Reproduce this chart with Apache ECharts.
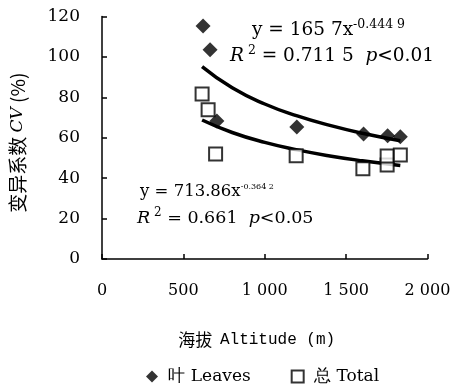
<!DOCTYPE html>
<html>
<head>
<meta charset="utf-8">
<script src="https://cdn.jsdelivr.net/npm/echarts@6/dist/echarts.min.js"></script>
<style>
  html, body { margin: 0; padding: 0; background: #fff; }
  #app { width: 457px; height: 391px; }
</style>
</head>
<body>
<div id="app"></div>
<script>
// observed points, altitude (m) vs CV (%)
const leavesAlt = [621, 664, 706, 1197, 1607, 1755, 1833];
const leavesCV = [115.3, 103.5, 68.3, 65.3, 61.9, 61.0, 60.5];
const totalAlt = [615, 652, 698, 1193, 1603, 1752, 1752, 1833];
const totalCV = [81.7, 73.8, 52.0, 51.1, 44.6, 46.5, 51.0, 51.5];

// fitted curves
const fitAlt = [615, 800, 1000, 1200, 1400, 1600, 1833];
const leavesFit = [95.2, 84.7, 76.7, 70.8, 66.1, 62.2, 58.5];
const totalFit = [68.8, 62.6, 57.7, 54.0, 51.0, 48.6, 46.3];

const xTicks = [0, 500, 1000, 1500, 2000];
const yTicks = [0, 20, 40, 60, 80, 100, 120];

const serif = "'DejaVu Serif', 'Liberation Serif', serif";
const cjk = "'Noto Sans CJK SC', sans-serif";

const zip = (xs, ys) => xs.map((x, i) => [x, ys[i]]);

const chart = echarts.init(document.getElementById("app"));

// rich styles for the equation labels, one set per font size
const eq = (size, supSize, lift) => ({
  t: { fontFamily: serif, fontSize: size, color: "#000" },
  i: { fontFamily: serif, fontSize: size, fontStyle: "italic", color: "#000" },
  sup: { fontFamily: serif, fontSize: supSize, color: "#000", padding: [0, 0, lift, 0] },
});

chart.setOption({
  animation: false,
  backgroundColor: "#fff",
  grid: { left: 97.5, right: 29.5, top: 16.5, bottom: 132 },
  legend: {
    bottom: 1,
    left: 141,
    itemGap: 40,
    itemWidth: 12,
    itemHeight: 12,
    formatter: (name) => " " + name,
    textStyle: { fontFamily: serif, fontSize: 17, color: "#000" },
    data: [
      { name: "叶 Leaves", icon: "diamond" },
      { name: "总 Total", icon: "rect", itemStyle: { color: "#fff", borderColor: "#000", borderWidth: 2 } },
    ],
  },
  xAxis: {
    type: "value",
    min: xTicks[0],
    max: xTicks[xTicks.length - 1],
    interval: 500,
    name: "海拔  {m|Altitude (m)}",
    nameLocation: "middle",
    nameGap: 72,
    nameTextStyle: {
      fontFamily: cjk,
      fontSize: 17,
      color: "#000",
      padding: [0, 16, 0, 0],
      rich: { m: { fontFamily: "'Liberation Mono', monospace", fontSize: 16, color: "#000" } },
    },
    axisLine: { lineStyle: { color: "#000", width: 1.5 } },
    axisTick: { inside: true, length: 5, lineStyle: { color: "#000", width: 1.5 } },
    axisLabel: {
      margin: 24,
      fontFamily: serif,
      fontSize: 16,
      color: "#000",
      formatter: (v) => (v >= 1000 ? Math.floor(v / 1000) + " " + String(v % 1000).padStart(3, "0") : String(v)),
    },
    splitLine: { show: false },
  },
  yAxis: {
    type: "value",
    min: yTicks[0],
    max: yTicks[yTicks.length - 1],
    interval: 20,
    name: "变异系数 {i|CV} (%)",
    nameLocation: "middle",
    nameGap: 75,
    nameRotate: 90,
    nameTextStyle: {
      fontFamily: cjk,
      fontSize: 19,
      color: "#000",
      padding: [0, 10, 0, 0],
      rich: { i: { fontFamily: serif, fontStyle: "italic", fontSize: 17, color: "#000" } },
    },
    axisLine: { show: true, lineStyle: { color: "#000", width: 1.5 } },
    axisTick: { show: true, inside: true, length: 5, lineStyle: { color: "#000", width: 1.5 } },
    axisLabel: { margin: 22, fontFamily: serif, fontSize: 17, color: "#000" },
    splitLine: { show: false },
  },
  series: [
    {
      name: "叶 Leaves",
      type: "scatter",
      symbol: "diamond",
      symbolSize: 15,
      itemStyle: { color: "#000" },
      data: zip(leavesAlt, leavesCV),
      z: 3,
    },
    {
      name: "总 Total",
      type: "scatter",
      symbol: "rect",
      symbolSize: 13,
      itemStyle: { color: "#fff", borderColor: "#000", borderWidth: 2 },
      data: zip(totalAlt, totalCV),
      z: 3,
    },
    {
      name: "leavesFit",
      type: "line",
      smooth: true,
      showSymbol: false,
      lineStyle: { color: "#000", width: 3.5 },
      data: zip(fitAlt, leavesFit),
      z: 2,
    },
    {
      name: "totalFit",
      type: "line",
      smooth: true,
      showSymbol: false,
      lineStyle: { color: "#000", width: 3.5 },
      data: zip(fitAlt, totalFit),
      z: 2,
    },
  ],
  graphic: [
    {
      type: "text", x: 252, y: 30,
      style: { text: "{t|y = 165 7x}{sup|-0.444 9}", verticalAlign: "middle", rich: eq(18.5, 12.5, 11) },
    },
    {
      type: "text", x: 230, y: 56,
      style: { text: "{i|R}{sup| 2}{t| = 0.711 5  }{i|p}{t|<0.01}", verticalAlign: "middle", rich: eq(18.5, 12.5, 11) },
    },
    {
      type: "text", x: 140, y: 192,
      style: { text: "{t|y = 713.86x}{sup|-0.364 2}", verticalAlign: "middle", rich: eq(16.5, 8, 10) },
    },
    {
      type: "text", x: 137, y: 218,
      style: { text: "{i|R}{sup| 2}{t| = 0.661  }{i|p}{t|<0.05}", verticalAlign: "middle", rich: eq(17.5, 12, 10) },
    },
  ],
});
</script>
</body>
</html>
